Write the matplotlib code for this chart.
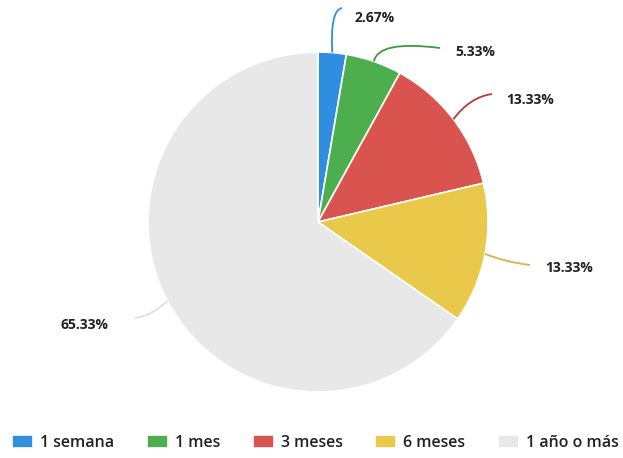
import numpy as np
import matplotlib
matplotlib.use("Agg")
import matplotlib.pyplot as plt
from matplotlib.path import Path
from matplotlib.patches import PathPatch

categories = ["1 semana", "1 mes", "3 meses", "6 meses", "1 año o más"]
values = [2.67, 5.33, 13.33, 13.33, 65.33]
labels = ["2.67%", "5.33%", "13.33%", "13.33%", "65.33%"]
colors = ["#2f8ee0", "#4cae4c", "#d9534f", "#e9c84a", "#e8e8e8"]

W, H = 623, 458
fig = plt.figure(figsize=(W / 100, H / 100), dpi=100)
ax = fig.add_axes([0, 0, 1, 1])

cx, cy, r = 318, H - 222, 170
wedges, _ = ax.pie(values, colors=colors, startangle=90, counterclock=False,
                   center=(cx, cy), radius=r, frame=True,
                   wedgeprops=dict(edgecolor="white", linewidth=1.2))
ax.set_xlim(0, W)
ax.set_ylim(0, H)
ax.set_aspect("equal")
ax.axis("off")

# label text positions (pixel coords from top), connector control & end points
text_pos = [(355, 18), (455, 52), (506, 100), (545, 268), (108, 325)]
ctrl = [(330, 10), (378, 40), (470, 97), (505, 262), (152, 316)]
line_end = [(342, 8), (440, 48), (492, 94), (530, 265), (135, 318)]
ha = ["left", "left", "left", "left", "right"]
line_colors = ["#2f8ee0", "#3f9a3f", "#b83a37", "#d4b545", "#e0e0e0"]

for w, lab, tp, cp, le, h, lc in zip(wedges, labels, text_pos, ctrl, line_end, ha, line_colors):
    mid = np.deg2rad((w.theta1 + w.theta2) / 2)
    ex, ey = cx + r * np.cos(mid), cy + r * np.sin(mid)
    path = Path([(ex, ey), (cp[0], H - cp[1]), (le[0], H - le[1])],
                [Path.MOVETO, Path.CURVE3, Path.CURVE3])
    ax.add_patch(PathPatch(path, facecolor="none", edgecolor=lc, lw=1.3))
    ax.text(tp[0], H - tp[1], lab, ha=h, va="center", fontsize=10,
            fontweight="bold", color="#222222", family="Open Sans")

leg = fig.legend(wedges, categories, loc="center", ncol=5,
                 bbox_to_anchor=(0.5 + 4 / W, 1 - 443 / H), frameon=False,
                 handlelength=1.3, handleheight=0.85,
                 columnspacing=2.05, handletextpad=0.45,
                 prop=dict(family="Open Sans", size=11.5, weight="semibold"))
for t in leg.get_texts():
    t.set_color("#222222")

fig.savefig("out.png", dpi=100)
